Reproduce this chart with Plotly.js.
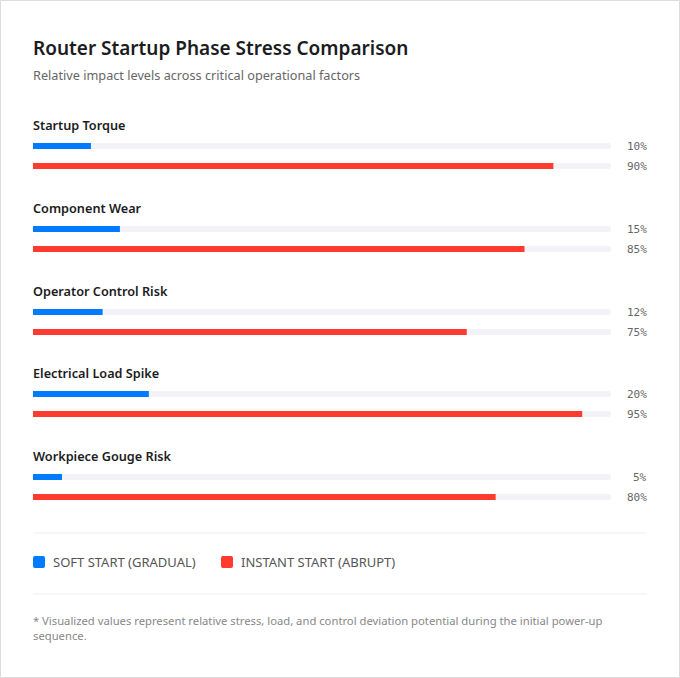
<!DOCTYPE html>
<html>
<head>
<meta charset="utf-8">
<script src="https://cdn.plot.ly/plotly-3.0.1.min.js"></script>
<style>
html,body{margin:0;padding:0;background:#fff;}
#chart{width:680px;height:678px;}
</style>
</head>
<body>
<div id="chart"></div>
<script>
// ---- data ----
const categories = ['Startup Torque', 'Component Wear', 'Operator Control Risk', 'Electrical Load Spike', 'Workpiece Gouge Risk'];
const softStart = [10, 15, 12, 20, 5];
const instantStart = [90, 85, 75, 95, 80];
const seriesNames = ['SOFT START (GRADUAL)', 'INSTANT START (ABRUPT)'];
const titleText = 'Router Startup Phase Stress Comparison';
const subtitleText = 'Relative impact levels across critical operational factors';
const footnoteText = '* Visualized values represent relative stress, load, and control deviation potential during the initial power-up<br>sequence.';

// ---- styling / layout helpers ----
const W = 680, H = 678;
const PL = 33, PR = 611, PT = 100, PB = 510;   // plot area in pixels
const BLUE = '#007AFF', RED = '#FF3B30', TRACK = '#F2F2F7';
const FONT = '"Noto Sans", "Open Sans", sans-serif';
const MONO = '"DejaVu Sans Mono", monospace';
const GROUP = 82.75, FIRST = 46, GAP = 20, BARW = 6;

const px2x = p => (p - PL) / (PR - PL);
const px2y = p => (PB - p) / (PB - PT);

const yBlue = categories.map((c, i) => FIRST + Math.round(i * GROUP));
const yRed = yBlue.map(y => y + GAP);
const full = categories.map(() => 100);

function bar(x, y, color, radius, base) {
  const t = {
    type: 'bar', orientation: 'h', x: x, y: y, width: BARW,
    marker: {color: color, cornerradius: radius, line: {width: 0}},
    hoverinfo: 'skip', showlegend: false
  };
  if (base) t.base = base;
  return t;
}

const traces = [
  bar(full, yBlue, TRACK, 3),
  bar(full, yRed, TRACK, 3),
  bar(softStart, yBlue, BLUE, 3),
  bar(softStart.map(v => v / 2), yBlue, BLUE, 0, softStart.map(v => v / 2)),
  bar(instantStart, yRed, RED, 3),
  bar(instantStart.map(v => v / 2), yRed, RED, 0, instantStart.map(v => v / 2))
];

const annotations = [];
const shapes = [];

// title + subtitle
annotations.push({xref: 'paper', yref: 'paper', x: px2x(33), xshift: -1, y: px2y(48), xanchor: 'left', yanchor: 'middle', borderpad: 0,
  text: titleText, showarrow: false, font: {family: FONT, size: 19, color: '#1c1c1e', weight: 600}});
annotations.push({xref: 'paper', yref: 'paper', x: px2x(33), xshift: -1, y: px2y(75), xanchor: 'left', yanchor: 'middle', borderpad: 0,
  text: subtitleText, showarrow: false, font: {family: FONT, size: 12.7, color: '#666666'}});

// category labels and values
categories.forEach((c, i) => {
  annotations.push({xref: 'paper', yref: 'y', x: 0, xshift: -1, y: yBlue[i] - 21, xanchor: 'left', yanchor: 'middle',
    text: c, showarrow: false, borderpad: 0, font: {family: FONT, size: 12.7, color: '#1c1c1e', weight: 600}});
  annotations.push({xref: 'paper', yref: 'y', x: px2x(648), y: yBlue[i], xanchor: 'right', yanchor: 'middle',
    text: softStart[i] + '%', showarrow: false, borderpad: 0, font: {family: MONO, size: 11, color: '#666666'}});
  annotations.push({xref: 'paper', yref: 'y', x: px2x(648), y: yRed[i], xanchor: 'right', yanchor: 'middle',
    text: instantStart[i] + '%', showarrow: false, borderpad: 0, font: {family: MONO, size: 11, color: '#666666'}});
});

// separators
[533, 594].forEach(p => shapes.push({type: 'line', xref: 'paper', yref: 'paper',
  x0: px2x(33), x1: px2x(647), y0: px2y(p), y1: px2y(p), line: {color: '#EEEEEE', width: 1}}));

// legend
function roundSq(x0, y0, s, r) {
  const x1 = x0 + s, y1 = y0 + s;
  const X = px2x, Y = px2y;
  return `M${X(x0 + r)},${Y(y0)} L${X(x1 - r)},${Y(y0)} Q${X(x1)},${Y(y0)} ${X(x1)},${Y(y0 + r)} ` +
    `L${X(x1)},${Y(y1 - r)} Q${X(x1)},${Y(y1)} ${X(x1 - r)},${Y(y1)} L${X(x0 + r)},${Y(y1)} ` +
    `Q${X(x0)},${Y(y1)} ${X(x0)},${Y(y1 - r)} L${X(x0)},${Y(y0 + r)} Q${X(x0)},${Y(y0)} ${X(x0 + r)},${Y(y0)} Z`;
}
const legendX = [33, 221];
const legendColors = [BLUE, RED];
seriesNames.forEach((n, i) => {
  shapes.push({type: 'path', xref: 'paper', yref: 'paper', path: roundSq(legendX[i], 556, 12, 2),
    fillcolor: legendColors[i], line: {width: 0}});
  annotations.push({xref: 'paper', yref: 'paper', x: px2x(legendX[i] + 20), xshift: -1, y: px2y(562), xanchor: 'left', yanchor: 'middle',
    text: n, showarrow: false, borderpad: 0, font: {family: FONT, size: 13, color: '#555555'}});
});

// footnote
annotations.push({xref: 'paper', yref: 'paper', x: px2x(33), xshift: -1, y: px2y(612), xanchor: 'left', yanchor: 'top',
  text: footnoteText, showarrow: false, align: 'left', borderpad: 0, font: {family: FONT, size: 11.25, color: '#888888'}});

// outer border
shapes.push({type: 'rect', xref: 'paper', yref: 'paper', x0: px2x(0.5), x1: px2x(679.5), y0: px2y(0.5), y1: px2y(677.5),
  line: {color: '#DDDDDD', width: 1}, fillcolor: 'rgba(0,0,0,0)', layer: 'below'});

const layout = {
  width: W, height: H,
  margin: {l: PL, r: W - PR, t: PT, b: H - PB, pad: 0},
  paper_bgcolor: '#ffffff', plot_bgcolor: '#ffffff',
  barmode: 'overlay',
  showlegend: false,
  hovermode: false,
  xaxis: {range: [0, 100], visible: false, fixedrange: true},
  yaxis: {range: [PB - PT, 0], visible: false, fixedrange: true},
  annotations: annotations,
  shapes: shapes,
  font: {family: FONT}
};

Plotly.newPlot('chart', traces, layout, {displayModeBar: false, staticPlot: true});
</script>
</body>
</html>
